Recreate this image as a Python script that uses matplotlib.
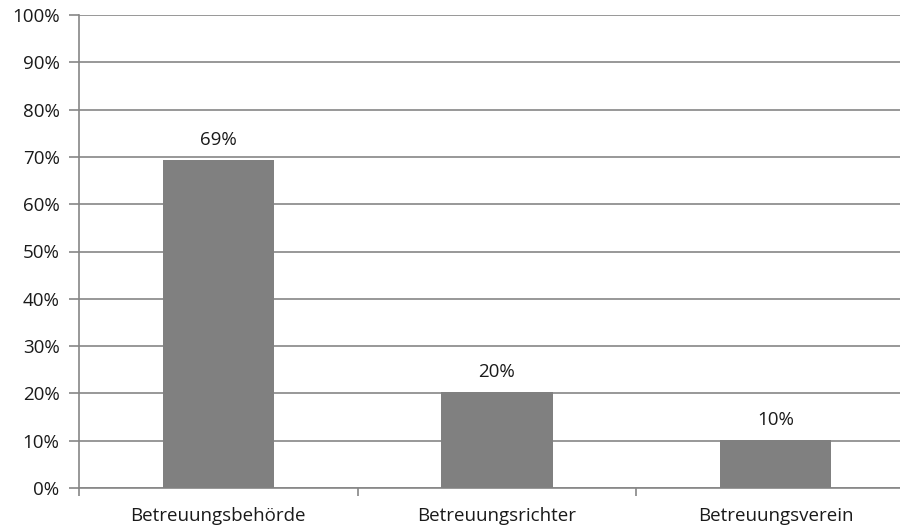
import matplotlib.pyplot as plt
from matplotlib.ticker import PercentFormatter, FixedLocator

# Daten
kategorien = ['Betreuungsbehörde', 'Betreuungsrichter', 'Betreuungsverein']
werte = [0.693, 0.203, 0.101]
beschriftung = ['69%', '20%', '10%']

plt.rcParams['font.family'] = ['Open Sans', 'DejaVu Sans']

fig = plt.figure(figsize=(9, 5.28), dpi=100)
ax = fig.add_axes([79 / 900, 40 / 528, 836 / 900, 473 / 528])

grau = '#868686'
fs = 13.5
x = range(len(kategorien))
ax.bar(x, werte, width=0.4, color='#808080', zorder=3)

for xi, w, txt in zip(x, werte, beschriftung):
    ax.annotate(txt, (xi, w), xytext=(0, 8), textcoords='offset points',
                ha='center', va='bottom', fontsize=fs, color='#1a1a1a')

ax.set_xlim(-0.5, len(kategorien) - 0.5)
ax.set_ylim(0, 1)
ax.set_yticks([i / 10 for i in range(11)])
ax.yaxis.set_major_formatter(PercentFormatter(1.0, decimals=0))
ax.grid(axis='y', color=grau, linewidth=1.2, zorder=0)

# Kategorie-Ticks an den Grenzen, Beschriftungen in der Mitte
ax.xaxis.set_major_locator(FixedLocator([-0.5, 0.5, 1.5, 2.5]))
ax.xaxis.set_minor_locator(FixedLocator(list(x)))
ax.set_xticklabels([])
ax.set_xticklabels(kategorien, minor=True)
ax.tick_params(axis='x', which='major', length=6, color=grau, width=1.2)
ax.tick_params(axis='x', which='minor', length=0, pad=14, labelsize=fs,
               labelcolor='#1a1a1a')
ax.tick_params(axis='y', length=7, color=grau, width=1.2, labelsize=fs,
               labelcolor='#1a1a1a', pad=7)

for s in ['top', 'right']:
    ax.spines[s].set_visible(False)
ax.spines['left'].set_color(grau)
ax.spines['left'].set_linewidth(1.2)
ax.spines['bottom'].set_color(grau)
ax.spines['bottom'].set_linewidth(1.2)

fig.savefig('out.png', dpi=100)
